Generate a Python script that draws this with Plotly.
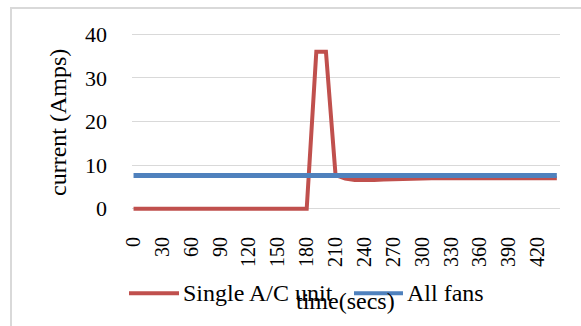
import plotly.graph_objects as go

# ---- data ----
time_secs = list(range(0, 450, 10))  # 0..440
single_ac_unit = [0, 0, 0, 0, 0, 0, 0, 0, 0, 0,
                  0, 0, 0, 0, 0, 0, 0, 0, 0,
                  36, 36,
                  7.7, 6.9, 6.6, 6.5, 6.6, 6.7, 6.8, 6.9, 6.95, 7.0,
                  7.0, 7.0, 7.0, 7.0, 7.0, 7.0, 7.0, 7.0, 7.0, 7.0,
                  7.0, 7.0, 7.0, 7.0]
all_fans = [7.6] * len(time_secs)
x_tick_vals = list(range(0, 450, 30))
x_tick_labels = [str(v) for v in x_tick_vals]
y_tick_vals = [0, 10, 20, 30, 40]
series_names = ["Single A/C unit", "All fans"]

RED = "#C0504D"
BLUE = "#4F81BD"
GRID = "#D9D9D9"
FONT = "Liberation Serif"

W, H = 581, 326
PL, PR = 132, 560          # plot area pixel edges (x)
PT, PB = 29.6, 213.4       # plot area pixel edges (y)


def px(xp):
    return (xp - PL) / (PR - PL)


def py(yp):
    return (PB - yp) / (PB - PT)


fig = go.Figure()
fig.add_trace(go.Scatter(x=time_secs, y=single_ac_unit, mode="lines",
                         name=series_names[0],
                         line=dict(color=RED, width=4)))
fig.add_trace(go.Scatter(x=time_secs, y=all_fans, mode="lines",
                         name=series_names[1],
                         line=dict(color=BLUE, width=5)))

fig.update_layout(
    width=W, height=H, autosize=False,
    margin=dict(l=PL, r=W - PR, t=PT, b=H - PB, pad=0),
    paper_bgcolor="white", plot_bgcolor="white",
    showlegend=False,
    font=dict(family=FONT, color="black", size=20),
    xaxis=dict(range=[-1.6, 443.3], tickmode="array", tickvals=x_tick_vals,
               ticktext=x_tick_labels, tickangle=-90, showgrid=False,
               zeroline=False, showline=False, ticks="",
               ticklabelstandoff=19, tickfont=dict(size=20, family=FONT)),
    yaxis=dict(range=[-0.97, 40.97], tickmode="array", tickvals=y_tick_vals,
               showgrid=True, gridcolor=GRID, gridwidth=1.3,
               zeroline=False, showline=False, ticks="",
               ticklabelstandoff=24, tickfont=dict(size=22, family=FONT)),
)

# outer chart frame
fig.add_shape(type="rect", xref="paper", yref="paper",
              x0=px(11), x1=px(700), y0=py(400), y1=py(7.5),
              line=dict(color=GRID, width=2), fillcolor="rgba(0,0,0,0)",
              layer="below")

# axis titles
fig.add_annotation(xref="paper", yref="paper", x=px(58), y=py(123),
                   text="current (Amps)", textangle=-90, showarrow=False,
                   font=dict(size=24, family=FONT), xanchor="center",
                   yanchor="middle")

# legend (manual)
fig.add_shape(type="line", xref="paper", yref="paper",
              x0=px(129), x1=px(179), y0=py(294), y1=py(294),
              line=dict(color=RED, width=4))
fig.add_annotation(xref="paper", yref="paper", x=px(181), y=py(294),
                   text=series_names[0], showarrow=False, xanchor="left",
                   yanchor="middle", font=dict(size=24, family=FONT))
fig.add_shape(type="line", xref="paper", yref="paper",
              x0=px(354), x1=px(403), y0=py(294), y1=py(294),
              line=dict(color=BLUE, width=4))
fig.add_annotation(xref="paper", yref="paper", x=px(405), y=py(294),
                   text=series_names[1], showarrow=False, xanchor="left",
                   yanchor="middle", font=dict(size=24, family=FONT))

fig.add_annotation(xref="paper", yref="paper", x=px(345), y=py(302),
                   text="time(secs)", showarrow=False, xanchor="center",
                   yanchor="middle", font=dict(size=24, family=FONT))

fig.write_html("out.html")
